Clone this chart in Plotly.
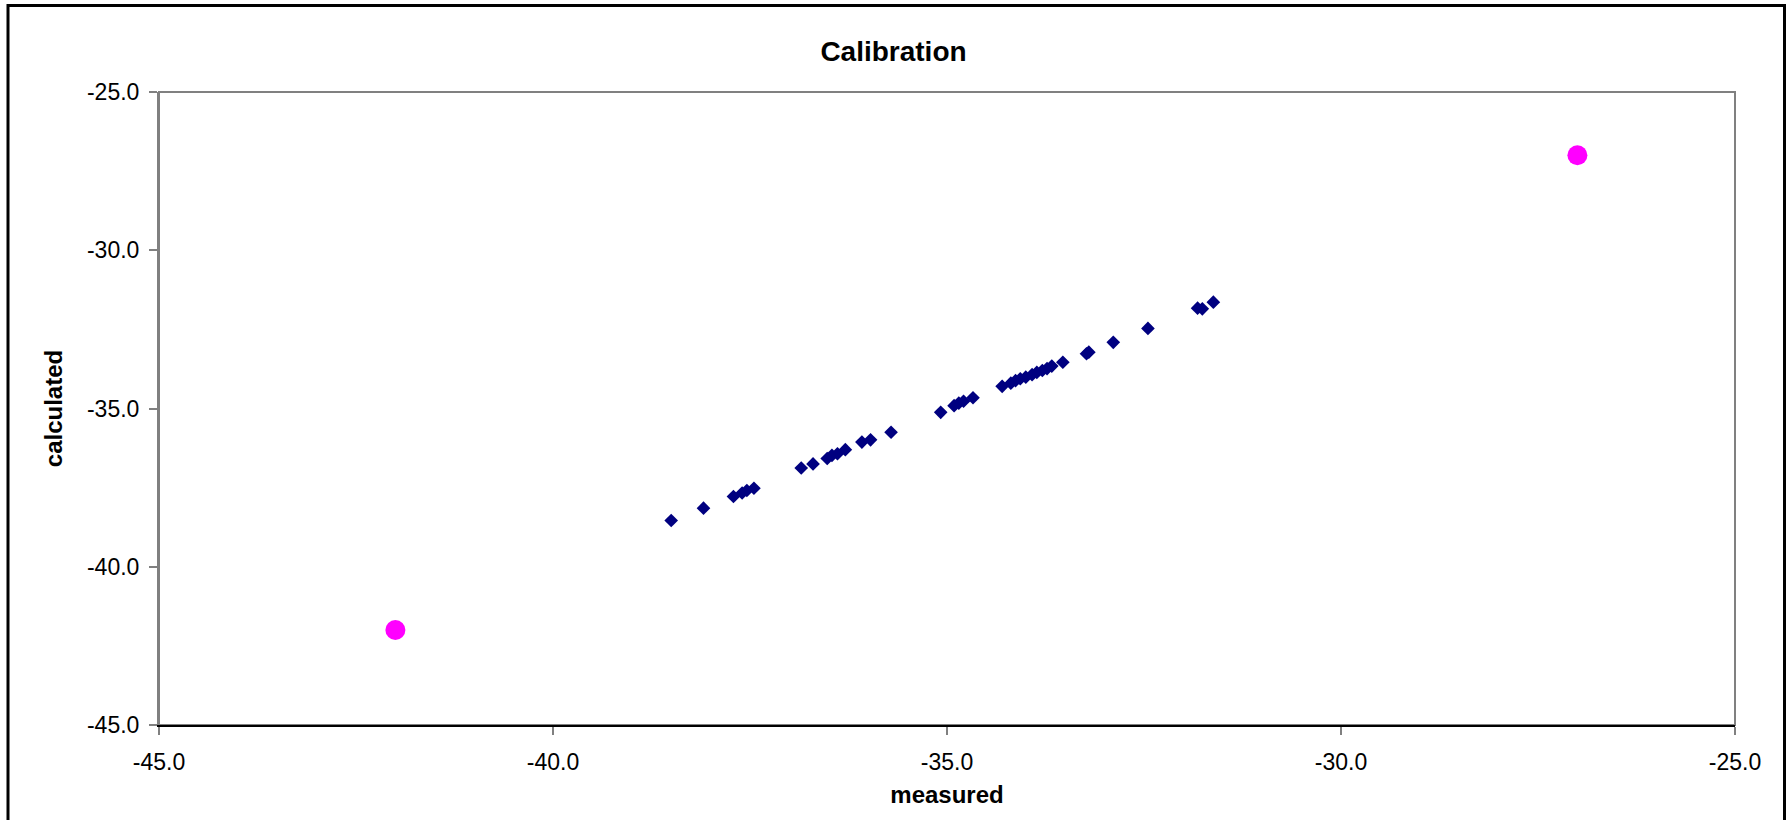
import plotly.graph_objects as go

# ---- data ----
measured = [-38.50, -38.09, -37.71, -37.60, -37.54, -37.45, -36.85, -36.70, -36.52, -36.46,
            -36.39, -36.29, -36.08, -35.97, -35.71, -35.08, -34.91, -34.85, -34.79, -34.67,
            -34.30, -34.19, -34.13, -34.07, -34.00, -33.92, -33.86, -33.79, -33.73, -33.67,
            -33.53, -33.23, -33.20, -32.89, -32.45, -31.82, -31.76, -31.62]
calculated = [-38.54, -38.15, -37.78, -37.67, -37.59, -37.52, -36.88, -36.75, -36.58, -36.48,
              -36.43, -36.30, -36.06, -35.99, -35.75, -35.12, -34.91, -34.83, -34.77, -34.66,
              -34.30, -34.20, -34.12, -34.06, -34.01, -33.93, -33.86, -33.80, -33.74, -33.66,
              -33.54, -33.27, -33.22, -32.91, -32.47, -31.83, -31.85, -31.64]
standard_measured = [-42.0, -27.0]
standard_calculated = [-42.0, -27.0]
tick_values = [-45.0, -40.0, -35.0, -30.0, -25.0]
tick_labels = ["-45.0", "-40.0", "-35.0", "-30.0", "-25.0"]

W, H = 1787, 820
ML, MR, MT, MB = 159, 52, 92, 95
FONT = "Arial, Liberation Sans, sans-serif"

fig = go.Figure()
fig.add_trace(go.Scatter(
    x=measured, y=calculated, mode="markers",
    marker=dict(symbol="diamond", size=10.5, color="#000080", line=dict(width=0)),
    showlegend=False))
fig.add_trace(go.Scatter(
    x=standard_measured, y=standard_calculated, mode="markers",
    marker=dict(symbol="circle", size=20, color="#FF00FF", line=dict(width=0)),
    showlegend=False))

pw = W - ML - MR
ph = H - MT - MB

# outer chart border (Excel chart area)
fig.add_shape(type="rect", xref="paper", yref="paper",
              x0=(8 - ML) / pw, x1=(1784.5 - ML) / pw,
              y0=(H - MB - 830) / ph, y1=(H - MB - 5.5) / ph,
              line=dict(color="black", width=3), fillcolor="rgba(0,0,0,0)", layer="below")
# plot area border
fig.add_shape(type="rect", xref="paper", yref="paper", x0=0, x1=1, y0=0, y1=1,
              line=dict(color="#808080", width=2), fillcolor="rgba(0,0,0,0)", layer="below")

axis_common = dict(
    range=[-45, -25], tickvals=tick_values, ticktext=tick_labels,
    ticks="outside", ticklen=8, tickcolor="#808080", tickwidth=1.5,
    showgrid=False, zeroline=False,
    tickfont=dict(family=FONT, size=23, color="black"),
)

fig.update_xaxes(**axis_common, showline=True, linecolor="black", linewidth=2,
                 ticklabelstandoff=7,
                 title=dict(text="<b>measured</b>", standoff=13,
                            font=dict(family=FONT, size=24, color="black")))
fig.update_yaxes(**axis_common, showline=True, linecolor="#808080", linewidth=2,
                 ticklabelstandoff=5,
                 title=dict(text="<b>calculated</b>", standoff=18,
                            font=dict(family=FONT, size=24, color="black")))

fig.update_layout(
    width=W, height=H,
    margin=dict(l=ML, r=MR, t=MT, b=MB),
    paper_bgcolor="white", plot_bgcolor="white",
    title=dict(text="<b>Calibration</b>", x=0.5, xref="container", xanchor="center",
               y=1 - 51 / H, yref="container", yanchor="middle",
               font=dict(family=FONT, size=28, color="black")),
    showlegend=False,
)

fig.write_html("out.html",
               config={"displayModeBar": False},
               post_script="document.body.style.margin='0px';document.body.style.overflow='hidden';")
